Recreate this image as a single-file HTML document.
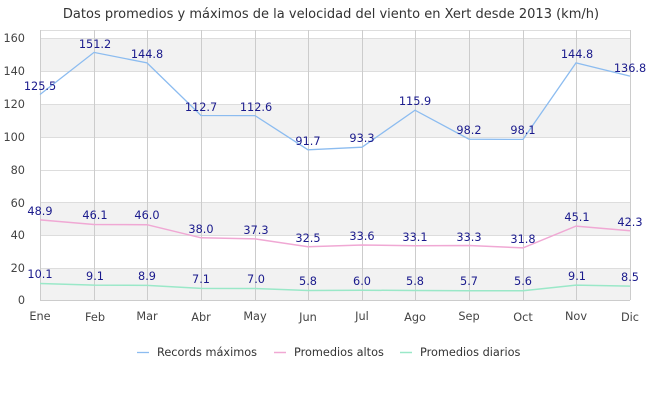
<!DOCTYPE html>
<html><head><meta charset="utf-8"><style>body{margin:0;background:#fff}svg{display:block;font-family:"DejaVu Sans","Liberation Sans",sans-serif}</style></head><body>
<svg width="660" height="400" xmlns="http://www.w3.org/2000/svg">
<text x="331" y="18" text-anchor="middle" font-size="13" fill="#333">Datos promedios y máximos de la velocidad del viento en Xert desde  2013 (km/h)</text>
<g fill="#f2f2f2">
<rect x="40" y="38" width="590" height="33"/>
<rect x="40" y="104" width="590" height="33"/>
<rect x="40" y="203" width="590" height="32"/>
<rect x="40" y="268" width="590" height="32"/>
</g>
<g stroke="#ddd" stroke-width="1">
<line x1="40" x2="630" y1="38.5" y2="38.5"/><line x1="40" x2="630" y1="71.5" y2="71.5"/><line x1="40" x2="630" y1="104.5" y2="104.5"/><line x1="40" x2="630" y1="137.5" y2="137.5"/><line x1="40" x2="630" y1="170.5" y2="170.5"/><line x1="40" x2="630" y1="202.5" y2="202.5"/><line x1="40" x2="630" y1="235.5" y2="235.5"/><line x1="40" x2="630" y1="268.5" y2="268.5"/>
<line x1="40" x2="630" y1="30.5" y2="30.5"/>
</g>
<g stroke="#ccc" stroke-width="1">
<line x1="40.5" x2="40.5" y1="30" y2="300"/><line x1="94.5" x2="94.5" y1="30" y2="300"/><line x1="147.5" x2="147.5" y1="30" y2="300"/><line x1="201.5" x2="201.5" y1="30" y2="300"/><line x1="255.5" x2="255.5" y1="30" y2="300"/><line x1="308.5" x2="308.5" y1="30" y2="300"/><line x1="362.5" x2="362.5" y1="30" y2="300"/><line x1="415.5" x2="415.5" y1="30" y2="300"/><line x1="469.5" x2="469.5" y1="30" y2="300"/><line x1="523.5" x2="523.5" y1="30" y2="300"/><line x1="576.5" x2="576.5" y1="30" y2="300"/><line x1="630.5" x2="630.5" y1="30" y2="300"/>
<line x1="40" x2="630" y1="300.5" y2="300.5"/>
</g>
<g font-size="11.3" fill="#444" text-anchor="end">
<text x="25" y="42">160</text><text x="25" y="75">140</text><text x="25" y="108">120</text><text x="25" y="141">100</text><text x="25" y="174">80</text><text x="25" y="207">60</text><text x="25" y="239">40</text><text x="25" y="272">20</text><text x="25" y="304">0</text>
</g>
<g font-size="11.3" fill="#444" text-anchor="middle">
<text x="40" y="320">Ene</text><text x="95" y="321">Feb</text><text x="147" y="320">Mar</text><text x="201" y="321">Abr</text><text x="255" y="320">May</text><text x="308" y="321">Jun</text><text x="362" y="320">Jul</text><text x="415" y="321">Ago</text><text x="469" y="320">Sep</text><text x="523" y="321">Oct</text><text x="576" y="320">Nov</text><text x="630" y="321">Dic</text>
</g>
<polyline fill="none" stroke="#8cbcf0" stroke-width="1.3" points="40,94.5 94,52.4 147,62.9 201,115.5 255,115.6 308,149.8 362,147.2 415,110.2 469,139.2 523,139.4 576,62.9 630,76.1"/>
<polyline fill="none" stroke="#f0a8d4" stroke-width="1.5" points="40,219.9 94,224.5 147,224.7 201,237.8 255,238.9 308,246.8 362,245 415,245.8 469,245.5 523,247.9 576,226.1 630,230.7"/>
<polyline fill="none" stroke="#9ae8c8" stroke-width="1.5" points="40,283.5 94,285.1 147,285.4 201,288.4 255,288.5 308,290.5 362,290.2 415,290.5 469,290.7 523,290.8 576,285.1 630,286.1"/>
<g font-size="11.3" fill="#1a1a8c" text-anchor="middle">
<text x="40" y="90">125.5</text><text x="95" y="48">151.2</text><text x="147" y="58">144.8</text><text x="201" y="111">112.7</text><text x="256" y="111">112.6</text><text x="308" y="145">91.7</text><text x="362" y="142">93.3</text><text x="415" y="105">115.9</text><text x="469" y="134">98.2</text><text x="523" y="134">98.1</text><text x="577" y="58">144.8</text><text x="630" y="72">136.8</text>
<text x="40" y="215">48.9</text><text x="95" y="219">46.1</text><text x="147" y="219">46.0</text><text x="201" y="233">38.0</text><text x="256" y="234">37.3</text><text x="308" y="242">32.5</text><text x="362" y="240">33.6</text><text x="415" y="241">33.1</text><text x="469" y="241">33.3</text><text x="523" y="243">31.8</text><text x="577" y="221">45.1</text><text x="630" y="226">42.3</text>
<text x="40" y="278">10.1</text><text x="95" y="280">9.1</text><text x="147" y="280">8.9</text><text x="201" y="283">7.1</text><text x="256" y="283">7.0</text><text x="308" y="285">5.8</text><text x="362" y="285">6.0</text><text x="415" y="285">5.8</text><text x="469" y="285">5.7</text><text x="523" y="285">5.6</text><text x="577" y="280">9.1</text><text x="630" y="281">8.5</text>
</g>
<g font-size="11.3" fill="#333">
<line x1="137" x2="149" y1="352.5" y2="352.5" stroke="#8cbcf0" stroke-width="1.3"/><text x="157" y="356">Records máximos</text>
<line x1="274" x2="286" y1="352.5" y2="352.5" stroke="#f0a8d4" stroke-width="1.5"/><text x="294" y="356">Promedios altos</text>
<line x1="400" x2="412" y1="352.5" y2="352.5" stroke="#9ae8c8" stroke-width="1.5"/><text x="420" y="356">Promedios diarios</text>
</g>
</svg>
</body></html>
